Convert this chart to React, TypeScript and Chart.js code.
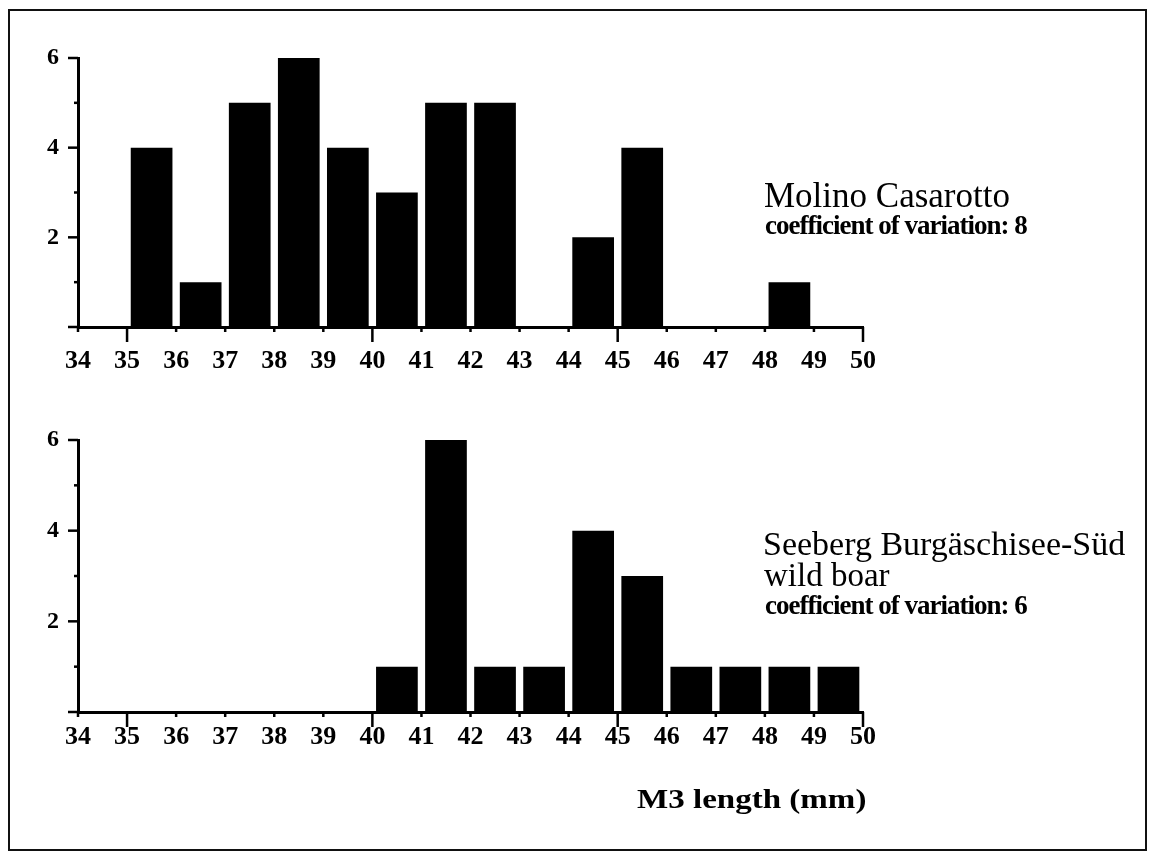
import React, { useEffect, useRef } from "react";
import { Chart, registerables } from "chart.js";

Chart.register(...registerables);

// ---- data ----
const binStarts = [35, 36, 37, 38, 39, 40, 41, 42, 43, 44, 45, 46, 47, 48, 49];
const molinoCounts = [4, 1, 5, 6, 4, 3, 5, 5, 0, 2, 4, 0, 0, 1, 0];
const seebergCounts = [0, 0, 0, 0, 0, 1, 6, 1, 1, 4, 3, 1, 1, 1, 1];
const xTickValues = [34, 35, 36, 37, 38, 39, 40, 41, 42, 43, 44, 45, 46, 47, 48, 49, 50];
const xMajorTicks = [35, 40, 45, 50];
const yTickValues = [0, 1, 2, 3, 4, 5, 6];
const yLabelTicks = [2, 4, 6];
const xMin = 34;
const xMax = 50;
const yMax = 6;

const tickMarksPlugin = {
  id: "tickMarks",
  afterDraw(chart: any) {
    const { ctx, chartArea, scales } = chart;
    const x = scales.x;
    const y = scales.y;
    ctx.save();
    ctx.strokeStyle = "#000";
    ctx.lineWidth = 2.5;
    xTickValues.forEach((v) => {
      const px = x.getPixelForValue(v);
      const len = xMajorTicks.includes(v) ? 15 : 5;
      ctx.beginPath();
      ctx.moveTo(px, chartArea.bottom);
      ctx.lineTo(px, chartArea.bottom + len);
      ctx.stroke();
    });
    yTickValues.forEach((v) => {
      const py = y.getPixelForValue(v);
      const len = v % 2 === 0 ? 10 : 4;
      ctx.beginPath();
      ctx.moveTo(chartArea.left, py);
      ctx.lineTo(chartArea.left - len, py);
      ctx.stroke();
    });
    ctx.restore();
  },
};

function makeConfig(counts: number[], labelPadding: number, padding: any) {
  return {
    type: "bar" as const,
    data: {
      datasets: [
        {
          data: binStarts.map((s, i) => ({ x: s + 0.5, y: counts[i] })),
          backgroundColor: "#000",
          borderWidth: 0,
          barPercentage: 0.85,
          categoryPercentage: 1,
        },
      ],
    },
    options: {
      responsive: false,
      animation: false,
      devicePixelRatio: 1,
      layout: { padding },
      plugins: { legend: { display: false }, tooltip: { enabled: false } },
      scales: {
        x: {
          type: "linear",
          min: xMin,
          max: xMax,
          offset: false,
          afterBuildTicks: (s: any) => {
            s.ticks = xTickValues.map((v) => ({ value: v }));
          },
          afterFit: (s: any) => {
            s.height = 60;
          },
          grid: { display: false, drawTicks: false },
          border: { display: true, color: "#000", width: 3 },
          ticks: {
            color: "#000",
            padding: labelPadding,
            maxRotation: 0,
            autoSkip: false,
            font: { family: "'Liberation Serif', serif", size: 26, weight: "bold" },
          },
        },
        y: {
          type: "linear",
          min: 0,
          max: yMax,
          afterBuildTicks: (s: any) => {
            s.ticks = yLabelTicks.map((v) => ({ value: v }));
          },
          afterFit: (s: any) => {
            s.width = 60;
          },
          grid: { display: false, drawTicks: false },
          border: { display: true, color: "#000", width: 3 },
          ticks: {
            color: "#000",
            padding: 19,
            font: { family: "'Liberation Serif', serif", size: 24, weight: "bold" },
          },
        },
      },
    },
    plugins: [tickMarksPlugin],
  };
}

function Histogram(props: { counts: number[]; top: number; labelPadding: number; padding: any }) {
  const ref = useRef<HTMLCanvasElement | null>(null);
  useEffect(() => {
    if (!ref.current) return;
    const chart = new Chart(ref.current, makeConfig(props.counts, props.labelPadding, props.padding) as any);
    return () => chart.destroy();
  }, []);
  return (
    <canvas
      ref={ref}
      width={1149}
      height={420}
      style={{ position: "absolute", left: 0, top: props.top, width: 1149, height: 420, display: "block" }}
    />
  );
}

const serif = "'Liberation Serif', 'Times New Roman', serif";

function Label(props: { text: string; left: number; top: number; size: number; bold?: boolean; spacing?: number; scaleX?: number }) {
  return (
    <div
      style={{
        position: "absolute",
        left: props.left,
        top: props.top,
        fontFamily: serif,
        fontSize: props.size,
        lineHeight: 1,
        fontWeight: props.bold ? "bold" : "normal",
        letterSpacing: props.spacing ?? 0,
        whiteSpace: "nowrap",
        color: "#000",
        transform: props.scaleX ? `scaleX(${props.scaleX})` : undefined,
        transformOrigin: "left top",
      }}
    >
      {props.text}
    </div>
  );
}

export default function App() {
  return (
    <div
      style={{
        position: "fixed",
        left: 0,
        top: 0,
        width: 1149,
        height: 854,
        background: "#fff",
        overflow: "hidden",
      }}
    >
      <div
        style={{
          position: "absolute",
          left: 8,
          top: 9,
          width: 1139,
          height: 842,
          border: "2px solid #111",
          boxSizing: "border-box",
        }}
      />
      <Histogram counts={molinoCounts} top={0} labelPadding={19} padding={{ left: 18, right: 286, top: 58, bottom: 33 }} />
      <Histogram counts={seebergCounts} top={400} labelPadding={10} padding={{ left: 18, right: 286, top: 40, bottom: 48 }} />
      <Label text="Molino Casarotto" left={764} top={178} size={35} />
      <Label text="coefficient of variation: 8" left={765} top={212} size={27} bold spacing={-1} />
      <Label text="Seeberg Burgäschisee-Süd" left={763} top={527} size={34} />
      <Label text="wild boar" left={764} top={559} size={33} />
      <Label text="coefficient of variation: 6" left={765} top={592} size={27} bold spacing={-1} />
      <Label text="M3 length (mm)" left={637} top={785} size={28} bold scaleX={1.18} />
    </div>
  );
}
